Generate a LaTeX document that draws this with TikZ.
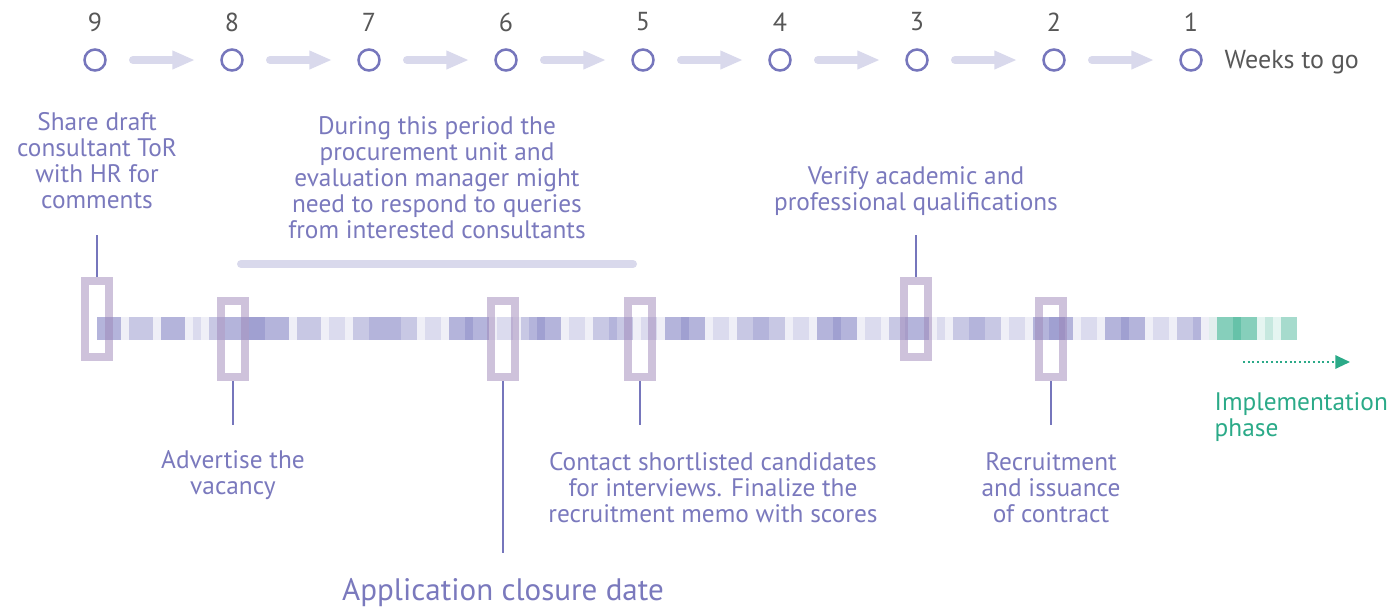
\documentclass[tikz,border=0pt]{standalone}
\usepackage{fontspec}
\setmainfont{PT Sans}
\usetikzlibrary{arrows.meta,positioning}
\definecolor{wkpurple}{HTML}{7676BC}
\definecolor{txtpurple}{HTML}{7A79BD}
\definecolor{lavender}{HTML}{D9D9EC}
\definecolor{framepurple}{HTML}{9D86B8}
\definecolor{barpurple}{HTML}{7B7BBF}
\definecolor{implgreen}{HTML}{2BAA88}
\definecolor{fadeteal}{HTML}{E2EEEE}
\definecolor{wkgrey}{HTML}{575757}
\tikzset{
	week/.style={circle,draw=wkpurple,line width=1.9pt,inner sep=0pt,minimum size=15.75pt},
	weeknum/.style={text=wkgrey,font=\fontsize{19.5}{20}\selectfont},
	weekarrow/.style={draw=lavender,line width=6pt,line cap=round,-{Triangle[length=17pt,width=13pt]}},
	stage/.style={draw=framepurple,draw opacity=0.5,line width=6pt,minimum width=18pt,minimum height=57pt,inner sep=0pt},
	lead/.style={draw=wkpurple,line width=1.5pt},
	note/.style={text=txtpurple,align=center,font=\fontsize{19}{19.5}\selectfont},
}
\begin{document}
\begin{tikzpicture}[x=0.75pt,y=-0.75pt]
	\useasboundingbox (0,0) rectangle (1397,608);
	% weeks to go
	\foreach \n [count=\k from 0] in {9,8,7,6,5,4,3,2,1} {
		\node[week] (w\n) at ({95+137*\k},60) {};
		\node[weeknum] (n\n) at ({95+137*\k},22) {\n};
	}
	\foreach \a/\b in {9/8,8/7,7/6,6/5,5/4,4/3,3/2,2/1}
		\draw[weekarrow] ([xshift=28.5pt]w\a.center) -- ([xshift=-27.75pt]w\b.center);
	\node[weeknum,anchor=west] (wtg) at (1220,62) {Weeks to go};
	% query period
	\draw[lavender,line width=6pt,line cap=round] (241,264) -- (633,264);
	% the timeline bar
	\foreach \v [count=\i from 0, evaluate=\v as \op using 0.12+0.15*\v] in {3,3,3,0,2,2,2,0,3,3,3,0,1,0,2,2,3,3,3,4,4,3,3,3,0,
		2,2,2,0,1,1,0,2,2,3,3,3,3,2,2,0,1,1,0,3,3,4,3,3,0,1,
		1,0,2,3,4,3,3,0,1,1,0,2,2,3,2,2,0,1,1,0,3,3,4,3,3,
		0,1,1,0,2,2,3,3,2,2,0,1,1,0,3,3,4,3,3,0,1,1,0,2,2,
		3,3,3,0,1,0,2,2,3,3,2,2,0,1,1,0,3,3,4,4,3,0,1,1,0,
		3,3,4,3,3,0,1,1,0,2,2,3,0}
		\fill[barpurple,fill opacity=\op] ({97+8*\i},317) rectangle ++(8,23);
	\fill[fadeteal] (1209,317) rectangle ++(8,23);
	\foreach \v [count=\i from 0, evaluate=\v as \op using 0.12+0.15*\v] in {3,3,4,3,3,0,1,0,2,2}
		\fill[implgreen,fill opacity=\op] ({1217+8*\i},317) rectangle ++(8,23);
	% stages
	\node[stage] (f1) at (97,319) {};
	\node[stage] (f2) at (233,339) {};
	\node[stage] (f3) at (503,339) {};
	\node[stage] (f4) at (640,339) {};
	\node[stage] (f5) at (916,319) {};
	\node[stage] (f6) at (1051,339) {};
	\draw[lead] (f1.north) -- ++(0,-42);
	\draw[lead] (f5.north) -- ++(0,-42);
	\draw[lead] (f2.south) -- ++(0,44);
	\draw[lead] (f3.south) -- ++(0,172);
	\draw[lead] (f4.south) -- ++(0,44);
	\draw[lead] (f6.south) -- ++(0,44);
	\node[note] (t1) at (97,161) {Share draft\\consultant ToR\\with HR for\\comments};
	\node[note] (tq) at (437,178) {During this period the\\procurement unit and\\evaluation manager might\\need to respond to queries\\from interested consultants};
	\node[note] (t5) at (916,191) {Verify academic and\\professional qualifications};
	\node[note] (t2) at (233,475) {Advertise the\\vacancy};
	\node[note,font=\fontsize{23.3}{25}\selectfont] (t3) at (503,593) {Application closure date};
	\node[note] (t4) at (713,488) {Contact shortlisted candidates\\for interviews. Finalize the\\recruitment memo with scores};
	\node[note] (t6) at (1051,488) {Recruitment\\and issuance\\of contract};
	% implementation
	\coordinate (ia) at (1243,362);
	\coordinate (ib) at (1350,362);
	\draw[implgreen,line width=1.5pt,dotted,-{Triangle[length=11pt,width=10pt]}] (ia) -- (ib);
	\node[note,text=implgreen,align=left,anchor=west] (ti) at (1210,417) {Implementation\\phase};
\end{tikzpicture}
\end{document}
